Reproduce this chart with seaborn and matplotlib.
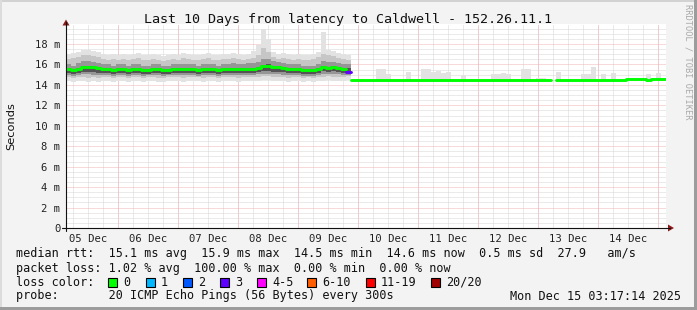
import numpy as np
import pandas as pd
import matplotlib
matplotlib.use("Agg")
import matplotlib.pyplot as plt
import seaborn as sns
from matplotlib.patches import Rectangle, Polygon
from matplotlib.lines import Line2D

nan = float("nan")

# ---------------- data ----------------
title = "Last 10 Days from latency to Caldwell - 152.26.11.1"
bin_hours = 2                 # each value covers 2 hours
first_midnight = 20.71        # hours from graph start (Dec 5 03:17) to Dec 6 00:00
day_labels = ["05 Dec", "06 Dec", "07 Dec", "08 Dec", "09 Dec",
              "10 Dec", "11 Dec", "12 Dec", "13 Dec", "14 Dec"]
y_ticks = [0, 2, 4, 6, 8, 10, 12, 14, 16, 18]
y_tick_labels = ["0", "2 m", "4 m", "6 m", "8 m", "10 m", "12 m", "14 m", "16 m", "18 m"]

# median rtt (ms), first part (before route change) and second part
median_a = [15.55, 15.45, 15.6, 15.75, 15.8, 15.75, 15.7, 15.6, 15.55, 15.5,
            15.6, 15.55, 15.5, 15.6, 15.55, 15.5, 15.5, 15.6, 15.55, 15.45,
            15.5, 15.55, 15.6, 15.55, 15.6, 15.55, 15.5, 15.55, 15.6, 15.55,
            15.5, 15.55, 15.6, 15.6, 15.55, 15.6, 15.6, 15.6, 15.7, 15.85,
            15.9, 15.8, 15.75, 15.7, 15.6, 15.55, 15.6, 15.5, 15.5, 15.45,
            15.55, 15.75, 15.7, 15.75, 15.7, 15.6, 15.3]
median_b = [14.5, 14.5, 14.5, 14.5, 14.5, 14.5, 14.45, 14.5, 14.5, 14.45,
            14.5, 14.5, 14.5, 14.5, 14.45, 14.5, 14.5, 14.5, 14.45, 14.5,
            14.5, 14.5, 14.5, 14.45, 14.5, 14.5, 14.5, 14.45, 14.5, 14.5,
            14.5, 14.5, 14.5, 14.45, 14.5, 14.45, 14.5, 14.5, 14.45, 14.5,
            nan, 14.5, 14.5, 14.5, 14.5, 14.5, 14.5, 14.5, 14.5, 14.5,
            14.5, 14.5, 14.5, 14.5, 14.5, 14.55, 14.55, 14.55, 14.55, 14.5,
            14.55, 14.55, 14.6]
# lost pings per bin (out of 20)
loss_a = [0] * 56 + [3]
loss_b = [0] * 63

# smoke envelopes, first part
smoke_max_a = [17.0, 17.1, 17.2, 17.4, 17.4, 17.3, 17.2, 17.0, 16.9, 17.0,
               16.9, 17.0, 16.9, 17.0, 17.1, 16.9, 16.9, 17.0, 16.9, 16.8,
               16.9, 17.0, 16.9, 17.1, 17.0, 16.9, 16.9, 17.0, 17.1, 16.9,
               16.9, 17.0, 17.0, 17.1, 17.0, 16.9, 17.0, 17.3, 17.9, 19.5,
               18.5, 17.2, 17.0, 17.1, 17.0, 16.9, 17.0, 16.9, 16.9, 17.0,
               17.2, 19.2, 17.4, 17.3, 17.1, 17.0, 16.9]
smoke_min_a = [14.4, 14.3, 14.4, 14.4, 14.3, 14.4, 14.3, 14.4, 14.4, 14.3,
               14.4, 14.4, 14.3, 14.4, 14.4, 14.3, 14.4, 14.4, 14.3, 14.3,
               14.4, 14.4, 14.4, 14.3, 14.4, 14.4, 14.4, 14.3, 14.4, 14.4,
               14.3, 14.4, 14.4, 14.4, 14.3, 14.4, 14.4, 14.4, 14.4, 14.5,
               14.5, 14.4, 14.4, 14.4, 14.3, 14.4, 14.4, 14.3, 14.4, 14.3,
               14.4, 14.4, 14.5, 14.4, 14.4, 14.4, 14.5]
smoke_q_hi_a = [16.5, 16.6, 16.7, 16.9, 16.9, 16.8, 16.7, 16.5, 16.4, 16.5,
                16.4, 16.5, 16.4, 16.5, 16.6, 16.4, 16.4, 16.5, 16.4, 16.3,
                16.4, 16.5, 16.4, 16.6, 16.5, 16.4, 16.4, 16.5, 16.6, 16.4,
                16.4, 16.5, 16.5, 16.6, 16.5, 16.4, 16.5, 16.6, 16.9, 17.6,
                17.2, 16.7, 16.5, 16.6, 16.5, 16.4, 16.5, 16.4, 16.4, 16.5,
                16.7, 17.0, 16.9, 16.8, 16.6, 16.5, 16.4]
smoke_q_lo_a = [14.8, 14.7, 14.8, 14.8, 14.7, 14.8, 14.7, 14.8, 14.8, 14.7,
                14.8, 14.8, 14.7, 14.8, 14.8, 14.7, 14.8, 14.8, 14.7, 14.7,
                14.8, 14.8, 14.8, 14.7, 14.8, 14.8, 14.8, 14.7, 14.8, 14.8,
                14.7, 14.8, 14.8, 14.8, 14.7, 14.8, 14.8, 14.8, 14.8, 14.9,
                14.9, 14.8, 14.8, 14.8, 14.7, 14.8, 14.8, 14.7, 14.8, 14.7,
                14.8, 14.8, 14.9, 14.8, 14.8, 14.8, 14.9]
smoke_r_hi_a = [16.0, 15.9, 16.1, 16.3, 16.3, 16.2, 16.1, 16.0, 16.0, 15.9,
                16.0, 16.0, 15.9, 16.0, 16.0, 15.9, 15.9, 16.0, 16.0, 15.9,
                15.9, 16.0, 16.0, 16.0, 16.0, 16.0, 15.9, 16.0, 16.0, 16.0,
                15.9, 16.0, 16.0, 16.1, 16.0, 16.0, 16.1, 16.1, 16.2, 16.5,
                16.5, 16.3, 16.2, 16.1, 16.0, 16.0, 16.0, 15.9, 15.9, 15.9,
                16.0, 16.3, 16.2, 16.2, 16.1, 16.0, 16.0]
smoke_r_lo_a = [15.0, 14.9, 15.0, 15.1, 15.1, 15.0, 15.0, 15.0, 14.95, 14.9,
                15.0, 14.95, 14.9, 15.0, 14.95, 14.9, 14.95, 15.0, 14.95, 14.9,
                14.95, 14.95, 15.0, 14.95, 15.0, 14.95, 14.9, 14.95, 15.0, 14.95,
                14.9, 14.95, 15.0, 15.0, 14.95, 15.0, 15.0, 15.0, 15.05, 15.1,
                15.1, 15.05, 15.05, 15.0, 14.95, 14.95, 15.0, 14.9, 14.9, 14.9,
                15.0, 15.1, 15.1, 15.1, 15.05, 15.0, 14.95]
smoke_c_hi_a = [15.65, 15.55, 15.7, 15.85, 15.9, 15.85, 15.8, 15.7, 15.65, 15.6,
                15.7, 15.65, 15.6, 15.7, 15.65, 15.6, 15.6, 15.7, 15.65, 15.55,
                15.6, 15.65, 15.7, 15.65, 15.7, 15.65, 15.6, 15.65, 15.7, 15.65,
                15.6, 15.65, 15.7, 15.7, 15.65, 15.7, 15.7, 15.7, 15.8, 15.95,
                16.0, 15.9, 15.85, 15.8, 15.7, 15.65, 15.7, 15.6, 15.6, 15.55,
                15.65, 15.85, 15.8, 15.85, 15.8, 15.7, 15.65]
smoke_c_lo_a = [15.15, 15.1, 15.2, 15.3, 15.3, 15.25, 15.2, 15.2, 15.15, 15.1,
                15.2, 15.15, 15.1, 15.2, 15.15, 15.1, 15.1, 15.2, 15.15, 15.1,
                15.1, 15.15, 15.2, 15.15, 15.2, 15.15, 15.1, 15.15, 15.2, 15.15,
                15.1, 15.15, 15.2, 15.2, 15.15, 15.2, 15.2, 15.2, 15.3, 15.4,
                15.4, 15.3, 15.3, 15.25, 15.2, 15.15, 15.2, 15.1, 15.1, 15.1,
                15.2, 15.35, 15.3, 15.35, 15.3, 15.2, 15.15]
# smoke, second part: only occasional slow pings
smoke_max_b = [nan, nan, nan, nan, nan, 15.6, 15.6, 15.1, nan, nan,
               nan, 15.3, nan, nan, 15.6, 15.6, 15.3, 15.4, 15.2, 15.3,
               nan, nan, 15.0, nan, nan, nan, nan, nan, 15.1, 15.1,
               15.15, 15.1, nan, nan, 15.6, 15.6, nan, 14.7, 14.7, nan,
               nan, 15.3, nan, nan, nan, nan, 15.1, 15.1, 15.8, nan,
               15.1, nan, 15.2, nan, nan, nan, nan, nan, nan, 15.1,
               nan, 15.2, nan]
smoke_min_b = [14.45] * 63

legend_rows = [
    "median rtt:  15.1 ms avg  15.9 ms max  14.5 ms min  14.6 ms now  0.5 ms sd  27.9   am/s",
    "packet loss: 1.02 % avg  100.00 % max  0.00 % min  0.00 % now",
]
loss_names = ["0", "1", "2", "3", "4-5", "6-10", "11-19", "20/20"]
loss_colors = ["#00ff00", "#00b8ff", "#0059ff", "#5e00ff", "#ff00ff",
               "#ff5e00", "#ff0000", "#a00000"]
probe_text = "probe:       20 ICMP Echo Pings (56 Bytes) every 300s"
date_text = "Mon Dec 15 03:17:14 2025"
watermark = "RRDTOOL / TOBI OETIKER"

# ---------------- assemble ----------------
median = np.array(median_a + median_b, float)
loss = np.array(loss_a + loss_b)
n = len(median)
t = np.arange(n) * bin_hours


def pad(arr):
    a = list(arr)
    return np.array(a + [nan] * (n - len(a)), float)


smoke_layers = [
    (np.array(smoke_min_a + smoke_min_b, float), np.array(smoke_max_a + smoke_max_b, float), "#e2e2e2"),
    (pad(smoke_q_lo_a), pad(smoke_q_hi_a), "#c6c6c6"),
    (pad(smoke_r_lo_a), pad(smoke_r_hi_a), "#969696"),
    (pad(smoke_c_lo_a), pad(smoke_c_hi_a), "#545454"),
]

W, H = 697, 310


def fx(x):
    return x / W


def fy(y):
    return 1 - y / H


sns.set_style("white")
plt.rcParams["font.family"] = ["DejaVu Sans Mono"]

fig = plt.figure(figsize=(W / 100, H / 100), dpi=100, facecolor="#f3f3f3")
left_px, right_px, bottom_px, top_px = 66, 666, 228, 23.6
ax = fig.add_axes([fx(left_px), fy(bottom_px), (right_px - left_px) / W, (bottom_px - top_px) / H])
ax.set_facecolor("white")
ax.set_xlim(0, n * bin_hours)
ax.set_ylim(0, 20)
for s in ax.spines.values():
    s.set_visible(False)

# grid
dot = (0, (1, 1))
minor_c, major_c = "#d6d6d6", "#f0b4b4"
gkw = dict(lw=0.72, ls=dot)
for k in range(1, 40):
    yv = k * 0.5
    if k % 4 != 0:
        ax.axhline(yv, color=minor_c, zorder=0, **gkw)
for k in range(1, 10):
    ax.axhline(k * 2, color=major_c, zorder=0.5, **gkw)
xv = first_midnight - 18
while xv < n * bin_hours:
    if xv > 0:
        ax.axvline(xv, color=minor_c, zorder=0, **gkw)
    xv += 6
for d in range(10):
    xm = first_midnight + 24 * d
    if xm < n * bin_hours:
        ax.axvline(xm, color=major_c, zorder=0.5, **gkw)


def runs(mask, key=None):
    i = 0
    while i < n:
        if not mask[i]:
            i += 1
            continue
        j = i
        while j < n and mask[j] and (key is None or key[j] == key[i]):
            j += 1
        yield i, j
        i = j


# smoke
for lo, hi, col in smoke_layers:
    ok = ~(np.isnan(lo) | np.isnan(hi))
    for i, j in runs(ok):
        xs = np.append(t[i:j], t[j - 1] + bin_hours)
        ax.fill_between(xs, np.append(lo[i:j], lo[j - 1]), np.append(hi[i:j], hi[j - 1]),
                        step="post", color=col, lw=0, zorder=2)

# median line coloured by loss
color_idx = np.array([0 if l == 0 else 1 if l == 1 else 2 if l == 2 else 3 if l == 3 else
                      4 if l <= 5 else 5 if l <= 10 else 6 if l <= 19 else 7 for l in loss])
ok = ~np.isnan(median)
for i, j in runs(ok, color_idx):
    xs = np.append(t[i:j], t[j - 1] + bin_hours)
    ys = np.append(median[i:j], median[j - 1])
    df = pd.DataFrame({"t": xs, "v": ys})
    sns.lineplot(data=df, x="t", y="v", ax=ax, color=loss_colors[color_idx[i]],
                 lw=2.1, drawstyle="steps-post", legend=False, zorder=3)

# ticks
ax.set_xlabel("")
ax.set_ylabel("")
ax.set_yticks(y_ticks)
ax.set_yticklabels(y_tick_labels, fontsize=7.6)
ax.set_yticks(np.arange(0.5, 20, 0.5), minor=True)
ax.tick_params(axis="y", which="major", length=3, width=0.7, direction="inout", pad=2.5, colors="#222222")
ax.tick_params(axis="y", which="minor", length=1.5, width=0.6, direction="inout", colors="#555555")
noon = [first_midnight - 12 + 24 * d for d in range(len(day_labels))]
ax.set_xticks(noon)
ax.set_xticklabels(day_labels, fontsize=7.6)
ax.tick_params(axis="x", which="major", length=0, pad=4.5, colors="#222222")
ax.grid(False)

# axes lines and arrows
ax_col = "#111111"
arrow_col = "#8b1a1a"
fig.add_artist(Line2D([fx(62), fx(670)], [fy(228), fy(228)], color=ax_col, lw=0.8))
fig.add_artist(Line2D([fx(66), fx(66)], [fy(231), fy(22)], color=ax_col, lw=0.8))
fig.add_artist(Polygon([(fx(668), fy(224.5)), (fx(668), fy(231.5)), (fx(674), fy(228))],
                       closed=True, transform=fig.transFigure, color=arrow_col, lw=0))
fig.add_artist(Polygon([(fx(62.5), fy(25.5)), (fx(69.5), fy(25.5)), (fx(66), fy(19.5))],
                       closed=True, transform=fig.transFigure, color=arrow_col, lw=0))

# texts
fig.text(fx(348.5), fy(19), title, ha="center", va="center", fontsize=9.6, color="#111111")
fig.text(fx(11), fy(126), "Seconds", rotation=90, ha="center", va="center",
         fontsize=8.2, family=["DejaVu Sans"], color="#111111")
fig.text(fx(688), fy(62), watermark, rotation=270, ha="center", va="center",
         fontsize=6.2, color="#a9a9a9")

fs = 8.5
fig.text(fx(16), fy(254), legend_rows[0], ha="left", va="center", fontsize=fs, color="#111111")
fig.text(fx(16), fy(268.3), legend_rows[1], ha="left", va="center", fontsize=fs, color="#111111")
fig.text(fx(16), fy(282), "loss color:", ha="left", va="center", fontsize=fs, color="#111111")
box_x = [108, 146, 183, 220, 257, 307, 366, 431]
for bx, name, col in zip(box_x, loss_names, loss_colors):
    fig.add_artist(Rectangle((fx(bx), fy(286.5)), 9 / W, 9 / H, transform=fig.transFigure,
                             facecolor=col, edgecolor="black", lw=0.8))
    fig.text(fx(bx + 15), fy(282), name, ha="left", va="center", fontsize=fs, color="#111111")
fig.text(fx(16), fy(296), probe_text, ha="left", va="center", fontsize=fs, color="#111111")
fig.text(fx(681), fy(296), date_text, ha="right", va="center", fontsize=fs, color="#111111")

# frame
fig.add_artist(Rectangle((0, fy(2)), 1, 2 / H, transform=fig.transFigure, color="#d2d2d2", lw=0))
fig.add_artist(Rectangle((0, 0), 2 / W, 1, transform=fig.transFigure, color="#dcdcdc", lw=0))
fig.add_artist(Rectangle((0, 0), 1, 3 / H, transform=fig.transFigure, color="#9c9c9c", lw=0))
fig.add_artist(Rectangle((fx(694), 0), 3 / W, 1, transform=fig.transFigure, color="#9c9c9c", lw=0))

fig.savefig("out.png", dpi=100, facecolor=fig.get_facecolor())
